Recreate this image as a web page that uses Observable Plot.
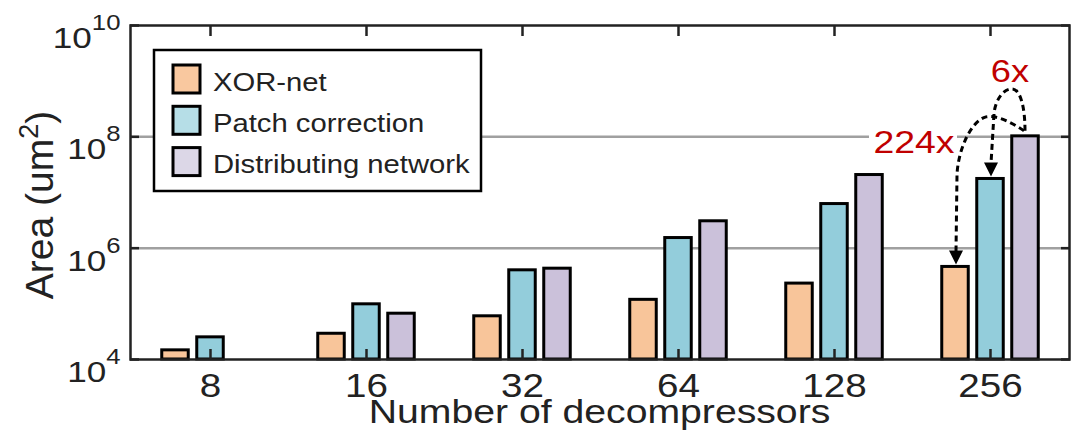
<!DOCTYPE html>
<html><head><meta charset="utf-8">
<script src="https://cdn.jsdelivr.net/npm/d3@7"></script>
<script src="https://cdn.jsdelivr.net/npm/@observablehq/plot@0.6"></script>
<style>
html,body{margin:0;padding:0;background:#fff;}
#chart svg{display:block;}
</style>
</head><body><div id="chart"></div>
<script>
// ---- data ----
const categories = ["8", "16", "32", "64", "128", "256"];
const seriesNames = ["XOR-net", "Patch correction", "Distributing network"];
const xorNet = [1.46e4, 2.9e4, 5.97e4, 1.18e5, 2.31e5, 4.6e5];
const patchCorrection = [2.5e4, 9.8e4, 4.0e5, 1.52e6, 6.2e6, 1.75e7];
const distributingNetwork = [null, 6.65e4, 4.28e5, 3.04e6, 2.06e7, 1.02e8];
const yTicks = [1e4, 1e6, 1e8, 1e10];
const gridValues = [1e6, 1e8];
const xTitle = "Number of decompressors";
const annotations = [
  {label: "224x", category: "256", from: 2, to: 0},
  {label: "6x", category: "256", from: 2, to: 1}
];

// ---- style ----
const barColors = ["#F8C59A", "#93CDDB", "#CBC1DA"];
const legendColors = ["#F9C89F", "#B6DEE7", "#DCD7E7"];
const ink = "#222";
const red = "#C00000";
const barStep = 35;      // px between bars in a group
const barWidth = 27;
const stretch = 1.17;    // horizontal stretch of the original figure text

const values = [xorNet, patchCorrection, distributingNetwork];
const rows = [];
values.forEach((arr, s) => arr.forEach((v, i) => {
  if (v != null) rows.push({cat: categories[i], series: seriesNames[s], s, value: v});
}));

const W = 1074, H = 443;
const mL = 130, mR = 5, mT = 25, mB = 84;
const bandW = (W - mL - mR) / categories.length;
const inset = (bandW - barWidth) / 2;

const chart = Plot.plot({
  width: W, height: H,
  marginLeft: mL, marginRight: mR, marginTop: mT, marginBottom: mB,
  style: {color: ink, fontFamily: "'Liberation Sans', Arial, sans-serif", background: "white"},
  x: {domain: categories, type: "band", padding: 0, label: null},
  y: {type: "log", domain: [1e4, 1e10], label: null},
  marks: [
    Plot.gridY(gridValues, {stroke: "#a0a0a0", strokeOpacity: 1, strokeWidth: 2.5}),
    ...seriesNames.map((name, s) => Plot.barY(rows.filter(r => r.s === s), {
      x: "cat", y1: 1e4, y2: "value",
      fill: barColors[s], stroke: "#000", strokeWidth: 3,
      insetLeft: inset, insetRight: inset, dx: (s - 1) * barStep
    })),
    Plot.frame({stroke: ink, strokeWidth: 2.5}),
    Plot.axisY(yTicks, {anchor: "left", tickSize: -9, tickPadding: 19, strokeWidth: 2.5, stroke: ink,
      fontSize: 30, tickFormat: d => String(Math.round(Math.log10(d))), label: null}),
    Plot.axisY(yTicks, {anchor: "right", tickSize: -9, strokeWidth: 2.5, stroke: ink, tickFormat: () => "", label: null}),
    Plot.axisX({anchor: "bottom", tickSize: -10, tickPadding: 24, strokeWidth: 2.5, stroke: ink, fontSize: 33, label: null}),
    Plot.axisX({anchor: "top", tickSize: -10, strokeWidth: 2.5, stroke: ink, tickFormat: () => "", label: null})
  ]
});
document.getElementById("chart").append(chart);

const svg = d3.select(chart);
const X = chart.scale("x"), Y = chart.scale("y");
const cx = (cat, s) => X.apply(cat) + X.bandwidth / 2 + (s - 1) * barStep;
const valueOf = (cat, s) => values[s][categories.indexOf(cat)];

// remove empty tick labels of the mirrored axes
svg.selectAll('g[aria-label="y-axis tick label"] text, g[aria-label="x-axis tick label"] text').each(function () {
  if (!this.textContent) this.remove();
});

// superscript exponents on y tick labels
svg.selectAll('g[aria-label="y-axis tick label"] text').each(function () {
  const exp = this.textContent;
  this.textContent = "10";
  d3.select(this).attr("y", "0.75em")
    .append("tspan").attr("dy", -18).attr("font-size", 22).text(exp);
});

const stretchTargets = [];
const addText = (parent, x, y, anchor) =>
  parent.append("text").attr("transform", `translate(${x},${y})`).attr("text-anchor", anchor);

// x title
stretchTargets.push(addText(svg, mL + (W - mL - mR) / 2, 423, "middle")
  .attr("font-size", 33.5).attr("fill", ink).text(xTitle).node());

// y title
const yt = svg.append("text")
  .attr("transform", `translate(53,${mT + (H - mT - mB) / 2 + 13}) rotate(-90)`)
  .attr("text-anchor", "middle").attr("font-size", 39).attr("fill", ink);
yt.append("tspan").text("Area (um");
yt.append("tspan").attr("dy", -15).attr("font-size", 27).text("2");
yt.append("tspan").attr("dy", 15).text(")");

// legend
const lg = svg.append("g");
lg.append("rect").attr("x", 154).attr("y", 50).attr("width", 327).attr("height", 141)
  .attr("fill", "white").attr("stroke", "#000").attr("stroke-width", 2.5);
seriesNames.forEach((name, i) => {
  lg.append("rect").attr("x", 173).attr("y", 65 + i * 41.3).attr("width", 27).attr("height", 28)
    .attr("fill", legendColors[i]).attr("stroke", "#000").attr("stroke-width", 3);
  stretchTargets.push(addText(lg, 213, 90.5 + i * 41.3, "start")
    .attr("font-size", 25).attr("fill", ink).text(name).node());
});

// annotations (positions derived from the chart scales)
const ag = svg.append("g");
annotations.forEach(a => {
  const x0 = cx(a.category, a.from), y0 = Y.apply(valueOf(a.category, a.from));
  const x1 = cx(a.category, a.to), y1 = Y.apply(valueOf(a.category, a.to));
  let d, lx, ly;
  if (a.to === 0) {
    d = `M${x0 - 1},${y0 - 5} C${x0 - 14},${y0 - 14} ${x0 - 29},${y0 - 21} ${x0 - 39},${y0 - 19}` +
        ` C${x1 + 16},${y0 - 15} ${x1 + 3},${y0 + 14} ${x1 + 2},${y0 + 39} L${x1 + 1},${y1 - 15}`;
    lx = x1 - 41; ly = y0 + 17;
    ag.append("rect").attr("x", x1 - 86).attr("y", y0 - 12).attr("width", 88).attr("height", 30).attr("fill", "white");
  } else {
    d = `M${x0},${y0 - 5} C${x0},${y0 - 30} ${x0 - 5},${y0 - 47} ${x0 - 13},${y0 - 47}` +
        ` C${x0 - 22},${y0 - 47} ${x1 + 5},${y0 - 35} ${x1 + 4},${y0 - 22} L${x1 + 1},${y1 - 15}`;
    lx = x0 - 15; ly = y0 - 54;
  }
  ag.append("path").attr("d", d).attr("fill", "none").attr("stroke", "#000")
    .attr("stroke-width", 3).attr("stroke-dasharray", "6 4");
  ag.append("path").attr("d", `M${x1 + 1 - 7},${y1 - 16} L${x1 + 1 + 7},${y1 - 16} L${x1 + 1},${y1 - 2} Z`)
    .attr("fill", "#000");
  a._label = {lx, ly};
});
annotations.forEach(a => {
  stretchTargets.push(addText(ag, a._label.lx, a._label.ly, "middle")
    .attr("font-size", a.to === 0 ? 32 : 31).attr("fill", red).text(a.label).node());
});

// horizontal stretch of text to match the original figure proportions
svg.selectAll('g[aria-label="y-axis tick label"] text, g[aria-label="x-axis tick label"] text').each(function () {
  stretchTargets.push(this);
});
stretchTargets.forEach(t => {
  const tr = t.getAttribute("transform") || "";
  t.setAttribute("transform", `${tr} scale(${stretch},1)`);
});
</script>
</body></html>
